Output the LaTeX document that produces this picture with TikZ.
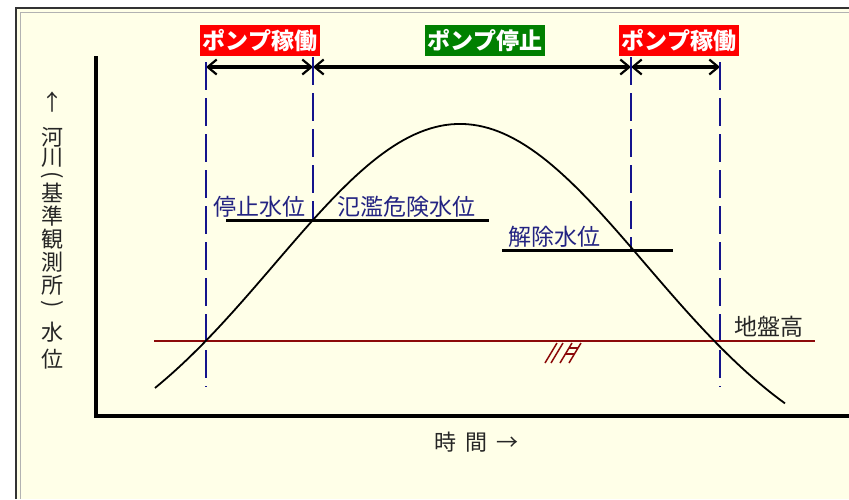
\documentclass[tikz,border=0pt]{standalone}
\usepackage{fontspec}
\setmainfont{Noto Sans CJK JP}
\usetikzlibrary{arrows.meta}
\definecolor{cream}{RGB}{255,255,232}
\definecolor{guideblue}{RGB}{20,20,140}
\definecolor{levelblue}{RGB}{35,35,130}
\definecolor{pumpred}{RGB}{255,0,0}
\definecolor{stopgreen}{RGB}{0,128,0}
\definecolor{groundred}{RGB}{140,10,10}
\begin{document}
\begin{tikzpicture}[x=1pt,y=-1pt,
  pump/.style={minimum width=120pt,minimum height=31pt,inner sep=0pt,text=white,font=\fontsize{23}{26}\selectfont\bfseries},
  level/.style={text=levelblue,inner sep=0pt,font=\fontsize{23}{26}\selectfont},
  vlabel/.style={inner sep=0pt,text=black!85,font=\fontsize{22}{24}\selectfont},
  guide/.style={draw=guideblue,line width=2pt,dash pattern=on 28pt off 8pt},
  span/.style={line width=3.5pt,{Straight Barb[length=9pt,width=15pt,line width=2.2pt]}-{Straight Barb[length=9pt,width=15pt,line width=2.2pt]}}]
\useasboundingbox (0,0) rectangle (849,499);
% frame
\fill[white] (0,0) rectangle (849,499);
\fill[cream] (16,8) rectangle (849,499);
\draw[black!80,line width=1.5pt] (16,499) -- (16,8) -- (849,8);
\draw[black!30,line width=1.2pt] (20.5,499) -- (20.5,12.5) -- (849,12.5);
% axes
\coordinate (O) at (96,416);
\draw[line width=3.5pt] (96,56) -- (O) -- (849,416);
% pump periods
\node[pump,fill=pumpred] (run1) at (260,40.5) {ポンプ稼働};
\node[pump,fill=stopgreen] (stop) at (485,40.5) {ポンプ停止};
\node[pump,fill=pumpred] (run2) at (679,40.5) {ポンプ稼働};
\coordinate (p1) at (206,67);
\coordinate (p2) at (313,67);
\coordinate (p3) at (631,67);
\coordinate (p4) at (720,67);
\foreach \a/\b in {p1/p2,p2/p3,p3/p4}{
  \draw[span] (\a) -- (\b);}
% guide lines
\draw[guide] (206,62) -- (206,387);
\draw[guide] (313,57) -- (313,220);
\draw[guide] (631,57) -- (631,250);
\draw[guide] (720,62) -- (720,387);
% levels
\draw[line width=3pt] (226,220) -- (489,220);
\draw[line width=3pt] (502,250) -- (673,250);
\draw[groundred,line width=2.5pt] (154,341) -- (815,341);
\foreach \h in {545,551,560,569}{
  \draw[groundred,line width=1.5pt] (\h,363) -- ++(12,-20);}
\draw[groundred,line width=1.3pt] (568.5,348) -- (577.5,348);
\draw[groundred,line width=1.3pt] (565.5,354) -- (574.5,354);
% water level curve
\draw[line width=1.8pt] plot[domain=155:785,samples=120] (\x,{480-356*exp(-((\x-460)/100)^2/6.876)});
\node[level] (stoplv) at (259.5,207) {停止水位};
\node[level] (floodlv) at (406.5,207) {氾濫危険水位};
\node[level] (releaselv) at (554.5,237) {解除水位};
\node[level,text=black!85] (groundlv) at (769,327) {地盤高};
% axis labels
\node[vlabel] (xlab) at (476,442) {時\hspace{9pt}間\hspace{9pt}→};
\foreach \ch/\yy [count=\k] in {↑/102,河/137,川/158,基/193,準/216,観/239,測/262,所/285,水/332,位/359}
  \node[vlabel] (v\k) at (52,\yy) {\ch};
\node[vlabel,rotate=-90] (vopen) at (52,175) {(};
\node[vlabel,rotate=-90] (vclose) at (52,304) {)};
\end{tikzpicture}
\end{document}
